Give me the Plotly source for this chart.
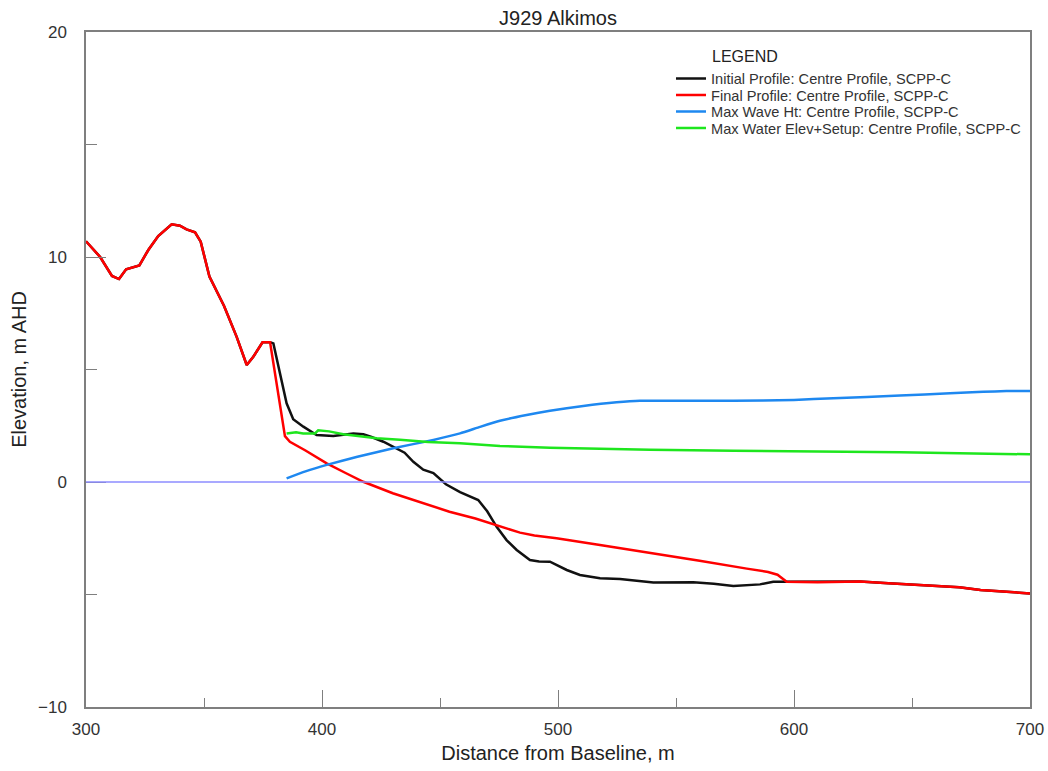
import plotly.graph_objects as go

# ---------------- data ----------------
final_x = [300, 302, 306, 311, 314, 317, 322.6, 326.4, 330.6, 336.3, 339.8, 342.6, 346.2, 348.6,
           352.3, 358.5, 363.8, 368.1, 370.9, 374.8, 378, 384.3, 386.4, 393, 402, 410, 417.5,
           430, 440, 450, 454, 465, 472.6, 483.9, 490, 499.4, 517.8, 539, 560, 580, 589,
           593, 596.9, 610, 628, 640, 656, 670, 679, 690, 700]
final_y = [10.7, 10.45, 10.0, 9.16, 9.02, 9.45, 9.63, 10.31, 10.93, 11.45, 11.39, 11.23, 11.1, 10.68,
           9.13, 7.82, 6.46, 5.2, 5.57, 6.21, 6.21, 2.04, 1.79, 1.4, 0.83, 0.4, 0.01,
           -0.5, -0.85, -1.17, -1.32, -1.62, -1.88, -2.25, -2.38, -2.5, -2.8, -3.14, -3.5, -3.85, -4.0,
           -4.12, -4.43, -4.45, -4.42, -4.5, -4.6, -4.68, -4.8, -4.88, -4.95]

initial_x = [300, 302, 306, 311, 314, 317, 322.6, 326.4, 330.6, 336.3, 339.8, 342.6, 346.2, 348.6,
             352.3, 358.5, 363.8, 368.1, 370.9, 374.8, 378, 379.4, 382.2, 385, 387.8, 392.1, 397.7,
             404.8, 409, 413.3, 417.5, 421, 426, 431.6, 435, 438.7, 442.9, 447.2, 452.5, 458.5,
             464.1, 466.2, 470, 474, 478.2, 482.5, 488.1, 492, 496.6, 500, 503.7, 509.3, 517.8,
             526.3, 533, 540.4, 557.3, 566, 574.3, 580, 585.6, 591.2, 596.9, 610, 628, 640, 656,
             670, 679, 690, 700]
initial_y = [10.7, 10.45, 10.0, 9.16, 9.02, 9.45, 9.63, 10.31, 10.93, 11.45, 11.39, 11.23, 11.1, 10.68,
             9.13, 7.82, 6.46, 5.2, 5.57, 6.21, 6.21, 6.16, 4.83, 3.5, 2.79, 2.46, 2.09,
             2.04, 2.1, 2.16, 2.12, 2.0, 1.79, 1.5, 1.3, 0.9, 0.55, 0.4, -0.1, -0.45,
             -0.68, -0.8, -1.3, -1.99, -2.58, -3.02, -3.47, -3.53, -3.54, -3.7, -3.91, -4.13, -4.28,
             -4.31, -4.38, -4.47, -4.46, -4.52, -4.62, -4.6, -4.55, -4.43, -4.43, -4.45, -4.42, -4.5, -4.6,
             -4.68, -4.8, -4.88, -4.95]

wave_x = [385, 393, 402, 415, 430.2, 447.2, 458.5, 467, 475.4, 486.7, 496.6, 510.7, 524.8, 534.7,
          574.3, 600, 616.7, 644.9, 666.1, 680.2, 690, 700]
wave_y = [0.16, 0.47, 0.76, 1.12, 1.5, 1.87, 2.16, 2.45, 2.72, 2.98, 3.17, 3.38, 3.54, 3.61,
          3.61, 3.65, 3.72, 3.84, 3.94, 4.01, 4.04, 4.05]

water_x = [385, 389, 392, 397, 398.4, 403, 409, 423.2, 433, 445, 458.5, 475.4, 496.6, 517.8, 539,
           574.3, 600, 644.9, 670, 700]
water_y = [2.16, 2.21, 2.16, 2.16, 2.3, 2.25, 2.12, 1.94, 1.88, 1.78, 1.72, 1.6, 1.52, 1.47, 1.43,
           1.39, 1.37, 1.32, 1.28, 1.23]

series_names = ["Initial Profile: Centre Profile, SCPP-C",
                "Final Profile: Centre Profile, SCPP-C",
                "Max Wave Ht: Centre Profile, SCPP-C",
                "Max Water Elev+Setup: Centre Profile, SCPP-C"]

# ---------------- figure ----------------
FONT = "Liberation Sans, Arial, sans-serif"
fig = go.Figure()
fig.add_trace(go.Scatter(x=initial_x, y=initial_y, mode="lines", name=series_names[0],
                         line=dict(color="#111111", width=2.5), legend="legend"))
fig.add_trace(go.Scatter(x=final_x, y=final_y, mode="lines", name=series_names[1],
                         line=dict(color="#ff0000", width=2.5), legend="legend2"))
fig.add_trace(go.Scatter(x=wave_x, y=wave_y, mode="lines", name=series_names[2],
                         line=dict(color="#1e88f0", width=2.5, shape="spline", smoothing=0.5),
                         legend="legend3"))
fig.add_trace(go.Scatter(x=water_x, y=water_y, mode="lines", name=series_names[3],
                         line=dict(color="#1ee61e", width=2.5), legend="legend4"))

leg_common = dict(x=0.6197, xanchor="left", yanchor="top", bgcolor="rgba(0,0,0,0)",
                  borderwidth=0, font=dict(size=14.6, color="#333333"), itemwidth=30)
row_centres_px = [78, 94.5, 111, 127.5]
leg_y = [(707 - (c - 15.5)) / 675 for c in row_centres_px]

fig.update_layout(
    width=1048, height=771,
    margin=dict(l=86, r=18, t=32, b=64, autoexpand=False),
    paper_bgcolor="white", plot_bgcolor="white",
    font=dict(family=FONT, color="#333333"),
    title=dict(text="J929 Alkimos", x=558 / 1048, xanchor="center",
               y=1 - 18 / 771, yanchor="middle", yref="container",
               font=dict(size=20, color="#222222")),
    showlegend=True,
    legend=dict(y=leg_y[0], **leg_common),
    legend2=dict(y=leg_y[1], **leg_common),
    legend3=dict(y=leg_y[2], **leg_common),
    legend4=dict(y=leg_y[3], **leg_common),
    annotations=[dict(text="LEGEND", xref="paper", yref="paper", x=0.6615, y=0.963,
                      xanchor="left", yanchor="middle", showarrow=False,
                      font=dict(size=16, color="#222222"))],
    shapes=[dict(type="line", xref="paper", yref="y", x0=0, x1=1, y0=0, y1=0,
                 line=dict(color="#8c8cff", width=1.5), layer="above")],
)

fig.update_xaxes(
    range=[300, 700], dtick=100, tick0=300,
    showline=True, linecolor="#7f7f7f", linewidth=1.5, mirror=True,
    ticks="inside", ticklen=17, tickcolor="#7f7f7f", tickwidth=1.2,
    minor=dict(dtick=50, tick0=300, ticks="inside", ticklen=9, tickcolor="#7f7f7f", tickwidth=1.2),
    showgrid=False, zeroline=False,
    tickfont=dict(size=17, color="#333333"), ticklabelstandoff=6,
    title=dict(text="Distance from Baseline, m", font=dict(size=20, color="#222222"), standoff=8),
)
fig.update_yaxes(
    range=[-10, 20], dtick=10, tick0=0,
    showline=True, linecolor="#7f7f7f", linewidth=1.5, mirror=True,
    ticks="inside", ticklen=20, tickcolor="#7f7f7f", tickwidth=1.2,
    minor=dict(dtick=5, tick0=0, ticks="inside", ticklen=11, tickcolor="#7f7f7f", tickwidth=1.2),
    showgrid=False, zeroline=False,
    tickfont=dict(size=17, color="#333333"), ticklabelstandoff=14,
    title=dict(text="Elevation, m AHD", font=dict(size=20, color="#222222"), standoff=6),
)

fig.write_html("out.html")
